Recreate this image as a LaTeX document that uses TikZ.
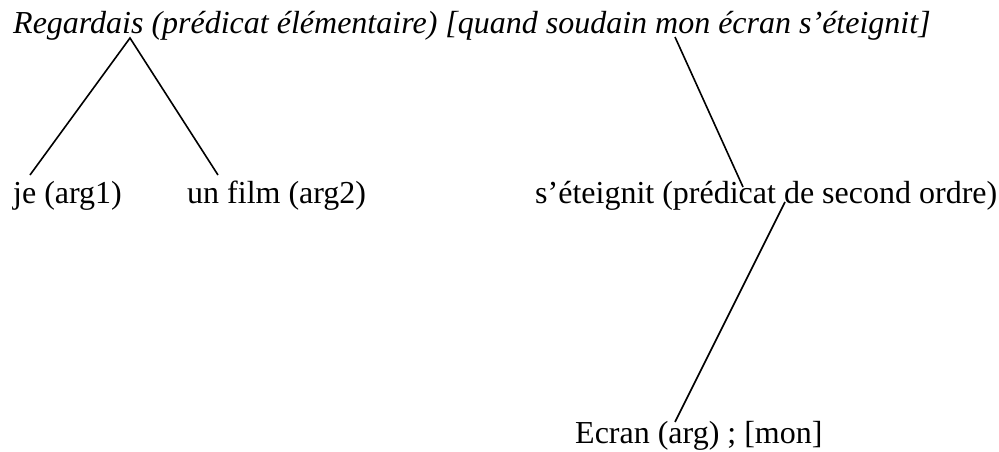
\documentclass[tikz,border=0pt]{standalone}
\usepackage{fontspec}
\setmainfont{Liberation Serif}
\usetikzlibrary{positioning}
\tikzset{
  word/.style={anchor=base west, inner sep=0pt, font=\fontsize{32}{38}\selectfont},
  branch/.style={draw=black, line width=1.6pt}
}

\begin{document}
\begin{tikzpicture}[x=1pt, y=-1pt]
\useasboundingbox (0,0) rectangle (999,452);

% main clause
\node[word, font=\fontsize{32}{38}\selectfont\itshape] (phrase) at (13,34) {Regardais (prédicat élémentaire) [quand soudain mon écran s’éteignit]};
\coordinate (regApex) at (130,38);
\coordinate (monFoot) at (675,37);

% arguments
\node[word] (je) at (13,203) {je (arg1)};
\node[word] (film) at (187,203) {un film (arg2)};
\coordinate (jeTop) at (30,175);
\coordinate (filmTop) at (218,175);

% second order predicate
\node[word] (eteignit) at (535,203) {s’éteignit (prédicat de second ordre)};
\coordinate (eteignitIn) at (743,187);
\coordinate (eteignitOut) at (785,202);

% its argument
\node[word] (ecran) at (575,443) {Ecran (arg) ; [mon]};
\coordinate (ecranTop) at (675,422);

\draw[branch] (jeTop) -- (regApex) -- (filmTop);
\draw[branch] (monFoot) -- (eteignitIn);
\draw[branch] (eteignitOut) -- (ecranTop);
\end{tikzpicture}
\end{document}
